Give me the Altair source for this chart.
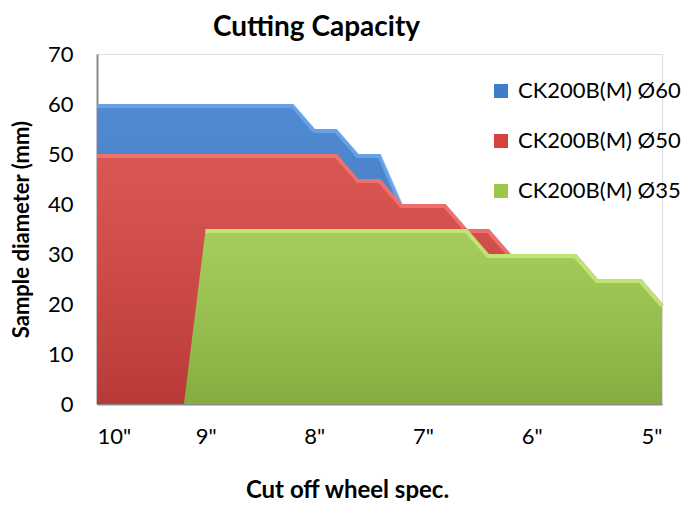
import altair as alt
import pandas as pd

# category positions (27 wheel-size steps from 10" to 5")
idx = list(range(27))
tick_pos = [0, 5, 10, 15, 20, 26]
tick_labels = ['10"', '9"', '8"', '7"', '6"', '5"']

series_names = ["CK200B(M) Ø60", "CK200B(M) Ø50", "CK200B(M) Ø35"]
s60 = [60, 60, 60, 60, 60, 60, 60, 60, 60, 60, 55, 55, 50, 50, 40,
       40, 40, 35, 35, 30, 30, 30, 30, 25, 25, 25, 20]
s50 = [50, 50, 50, 50, 50, 50, 50, 50, 50, 50, 50, 50, 45, 45, 40,
       40, 40, 35, 35, 30, 30, 30, 30, 25, 25, 25, 20]
s35 = [0, 0, 0, 0, 0, 35, 35, 35, 35, 35, 35, 35, 35, 35, 35,
       35, 35, 35, 30, 30, 30, 30, 30, 25, 25, 25, 20]

colors = ["#3d7dcc", "#d6433f", "#9cc74a"]
edge_colors = ["#6aa6ee", "#f27471", "#c6ea78"]

FONT = "Lato"

label_expr = " : ".join(
    f"datum.value == {p} ? '{l}'" for p, l in zip(tick_pos, tick_labels)
) + " : ''"

x_enc = alt.X(
    "i:Q",
    scale=alt.Scale(domain=[0, 26], nice=False, zero=False),
    axis=alt.Axis(
        values=tick_pos, labelExpr=label_expr, grid=False, ticks=False,
        domainColor="#8a8a8a", domainWidth=2, labelFontSize=22,
        labelPadding=22, labelColor="#000", labelFont=FONT,
        title="Cut off wheel spec.", titleFontSize=24, titleFont=FONT,
        titleFontWeight="bold", titleColor="#000",
        titleX=250, titleY=86, titleBaseline="middle", titleAnchor="start",
        titleAlign="center",
    ),
)
y_enc = alt.Y(
    "v:Q",
    scale=alt.Scale(domain=[0, 70], nice=False),
    axis=alt.Axis(
        values=[0, 10, 20, 30, 40, 50, 60, 70], grid=False, ticks=False,
        domainColor="#8a8a8a", domainWidth=2, labelFontSize=22,
        labelPadding=24, labelColor="#000", labelFont=FONT,
        title="Sample diameter (mm)", titleFontSize=22, titleFont=FONT,
        titleFontWeight="bold", titleColor="#000",
        titleX=-76, titleY=175, titleBaseline="middle", titleAlign="center",
        titleAngle=270,
    ),
)

color_scale = alt.Scale(domain=series_names, range=colors)

layers = []
for k, (name, vals) in enumerate(zip(series_names, [s60, s50, s35])):
    df = pd.DataFrame({"i": idx, "v": vals, "series": name})
    base = alt.Chart(df)
    area = base.mark_area(opacity=1, interpolate="linear").encode(
        x=x_enc, y=y_enc,
        color=alt.Color(
            "series:N", scale=color_scale,
            legend=alt.Legend(
                title=None, orient="none", legendX=393, legendY=26,
                symbolType="square", symbolSize=196, symbolStrokeWidth=0,
                symbolOpacity=1, labelFontSize=22, labelFont=FONT,
                labelColor="#000", labelOffset=6, rowPadding=28, padding=0,
                labelLimit=300,
            ),
        ),
    )
    shade = base.mark_area(
        color=alt.Gradient(
            gradient="linear", x1=0, x2=0, y1=0, y2=1,
            stops=[alt.GradientStop(offset=0, color="rgba(255,255,255,0.10)"),
                   alt.GradientStop(offset=1, color="rgba(0,0,0,0.14)")],
        )
    ).encode(x=x_enc, y=y_enc)
    edge = base.transform_filter("datum.v > 0").mark_line(
        color=edge_colors[k], strokeWidth=4, yOffset=2, opacity=0.85
    ).encode(x=x_enc, y=y_enc)
    layers += [area, shade, edge]

chart = alt.layer(*layers).properties(
    width=565, height=350,
    title=alt.TitleParams(
        "Cutting Capacity", fontSize=28, font=FONT, fontWeight="bold",
        color="#000", anchor="middle", dx=-63, dy=3,
    ),
    autosize=alt.AutoSizeParams(type="none"),
    padding={"left": 89, "top": 46, "right": 22, "bottom": 97},
).configure_view(stroke=None).configure(background="white")

chart.save("out.html", embed_options={"renderer": "svg", "actions": False})
